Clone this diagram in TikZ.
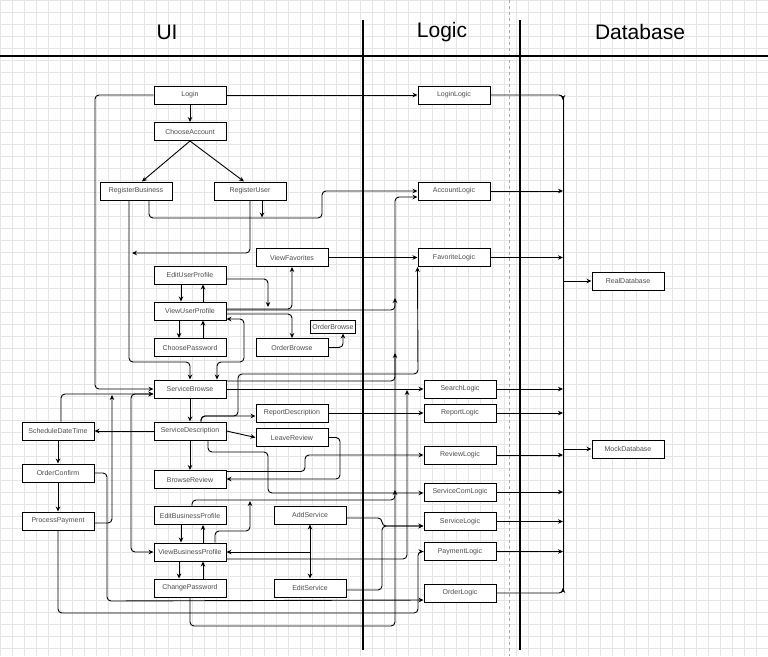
\documentclass[tikz,border=0pt]{standalone}
\usepackage{fontspec}
\setmainfont{Liberation Sans}
\usepackage{tikz}
\usetikzlibrary{arrows.meta,positioning,calc}
\tikzset{
  box/.style={draw, line width=1pt, fill=white, minimum width=72pt, minimum height=18pt, inner sep=0pt, font=\fontsize{7}{8}\selectfont, text=black!70},
  smallbox/.style={box, minimum width=45pt, minimum height=13pt},
  head/.style={font=\fontsize{21}{24}\selectfont},
  link/.style={line width=0.9pt, rounded corners=4pt, -{Stealth[length=5pt,width=4.5pt]}},
  twolink/.style={link, {Stealth[length=5pt,width=4.5pt]}-{Stealth[length=5pt,width=4.5pt]}},
  plain/.style={line width=0.9pt},
  sepline/.style={line width=2.4pt},
  gridline/.style={line width=0.5pt, black!10},
}

\begin{document}
\begin{tikzpicture}[x=1pt,y=-1pt]
      \useasboundingbox (0,0) rectangle (768,656);
      \fill[white] (0,0) rectangle (768,656);
      \foreach \gx in {0,12,...,768} \draw[gridline] (\gx,0) -- (\gx,656);
      \foreach \gy in {0,12,...,656} \draw[gridline] (0,\gy) -- (768,\gy);
      \draw[black!35, dashed] (509,0) -- (509,656);
      \draw[line width=1.2pt] (0,56) -- (768,56);
      \draw[sepline] (363,20) -- (363,650);
      \draw[sepline] (520,20) -- (520,650);
      \node[head] at (167,32) (ui) {UI};
      \node[head] at (442,32) (logic) {Logic};
      \node[head] at (640,32) (database) {Database};
      % ui side
      \node[box] at (190,95) (login) {Login};
      \node[box] at (190,131.5) (chooseacc) {ChooseAccount};
      \node[box] at (136,191) (regbus) {RegisterBusiness};
      \node[box] at (250,191) (reguser) {RegisterUser};
      \node[box] at (292,257.5) (viewfav) {ViewFavorites};
      \node[box] at (190,275) (edituser) {EditUserProfile};
      \node[box] at (190,311) (viewuser) {ViewUserProfile};
      \node[smallbox] at (333,326.5) (orderbrsmall) {OrderBrowse};
      \node[box] at (190,347.5) (choosepw) {ChoosePassword};
      \node[box] at (292,347.5) (orderbr) {OrderBrowse};
      \node[box] at (190,389) (servbrowse) {ServiceBrowse};
      \node[box] at (292,413) (reportdesc) {ReportDescription};
      \node[box] at (58,431) (scheddt) {ScheduleDateTime};
      \node[box] at (190,431) (servdesc) {ServiceDescription};
      \node[box] at (292,437.5) (leavereview) {LeaveReview};
      \node[box] at (58,473) (orderconf) {OrderConfirm};
      \node[box] at (190,479.5) (browsereview) {BrowseReview};
      \node[box] at (190,515.5) (editbus) {EditBusinessProfile};
      \node[box] at (58,521) (procpay) {ProcessPayment};
      \node[box] at (310,515) (addserv) {AddService};
      \node[box] at (190,552) (viewbus) {ViewBusinessProfile};
      \node[box] at (190,588) (changepw) {ChangePassword};
      \node[box] at (310,588) (editserv) {EditService};
      % logic side
      \node[box] at (454,95) (loginlogic) {LoginLogic};
      \node[box] at (454,191) (acclogic) {AccountLogic};
      \node[box] at (454,257.5) (favlogic) {FavoriteLogic};
      \node[box] at (460,389) (searchlogic) {SearchLogic};
      \node[box] at (460,413) (reportlogic) {ReportLogic};
      \node[box] at (460,455) (reviewlogic) {ReviewLogic};
      \node[box] at (460,492) (servcomlogic) {ServiceComLogic};
      \node[box] at (460,521.5) (servlogic) {ServiceLogic};
      \node[box] at (460,551.5) (paylogic) {PaymentLogic};
      \node[box] at (460,593) (orderlogic) {OrderLogic};
      % database side
      \node[box] at (628,281) (realdb) {RealDatabase};
      \node[box] at (628,449) (mockdb) {MockDatabase};
      % free ends
      \coordinate (bustop) at (563,98);
      \coordinate (busbot) at (563,590);
      \coordinate (ruend) at (262,217.5);
      \coordinate (rbend) at (132,253);
      \coordinate (euend) at (268,307);
      \coordinate (vuend) at (395,298);
      \coordinate (ppend) at (112,395);
      \coordinate (vbend) at (250,501);
      \coordinate (ebend) at (395,490);
      \coordinate (vbend2) at (407,390);
      \coordinate (cpend) at (395,353);
      \coordinate (asend) at (310,552);
      % login and accounts
      \draw[link] (login) -- (chooseacc);
      \draw[link] (chooseacc.south) -- ([xshift=6pt]regbus.north);
      \draw[link] (chooseacc.south) -- ([xshift=-6pt]reguser.north);
      \draw[link] (login) -- (loginlogic);
      \draw[link] (login.west) -| (95,389) -- (servbrowse.west);
      \draw[link] ([xshift=13pt]regbus.south) -- (149,218) -- (322,218) -- (322,191) -- (acclogic.west);
      \draw[link] ([xshift=12pt]reguser.south) -- (ruend);
      \draw[link] ([xshift=-7pt]regbus.south) -- (129,362) -- (190,362) -- (servbrowse.north);
      \draw[link] (reguser.south) -- (250,253) -- (rbend);
      % user profile
      \draw[link] ([xshift=-9pt]edituser.south) -- ([xshift=-9pt]viewuser.north);
      \draw[link] ([xshift=13pt]viewuser.north) -- ([xshift=13pt]edituser.south);
      \draw[link] ([xshift=-11pt]viewuser.south) -- ([xshift=-11pt]choosepw.north);
      \draw[link] ([xshift=13pt]choosepw.north) -- ([xshift=13pt]viewuser.south);
      \draw[link] ([yshift=-4pt]edituser.east) -- (268,279) -- (euend);
      \draw[link] ([yshift=2pt]viewuser.east) -- (292,309) -- (viewfav.south);
      \draw[link] ([yshift=1pt]viewuser.east) -- (395,310) -- (vuend);
      \draw[link] ([yshift=-3pt]viewuser.east) -- (292,314) -- (orderbr.north);
      \draw[link] (orderbr.east) -- (343,347.5) -- ([xshift=10pt]orderbrsmall.south);
      \draw[twolink] ([yshift=-8pt]viewuser.east) -- (244,319) -- (244,362) -- (217,362) -- ([xshift=27pt]servbrowse.north);
      \draw[link] (viewfav) -- (favlogic);
      % browsing services
      \draw[link] ([yshift=8pt]servbrowse.east) -- (395,381) -- (395,197) -- ([yshift=-6pt]acclogic.west);
      \draw[link] (servbrowse) -- (searchlogic);
      \draw[link] (servbrowse) -- (servdesc);
      \draw[link] (servdesc) -- (scheddt);
      \draw[link] ([xshift=11pt]servdesc.north) -- (201,416) -- ([yshift=-3pt]reportdesc.west);
      \draw[link] ([xshift=11pt]servdesc.north) -- (201,416) -- (238,416) -- (238,374) -- (418,374) -- (favlogic.south west);
      \draw[link] (servdesc.east) -- (leavereview.west);
      \draw[link] (servdesc) -- (browsereview);
      \draw[link] ([xshift=18pt]servdesc.south) -- (208,452) -- (268,452) -- (268,493) -- ([yshift=-1pt]servcomlogic.west);
      \draw[link] (leavereview.east) -- (340,437.5) -- (340,479) -- ([yshift=0.5pt]browsereview.east);
      \draw[link] ([yshift=8pt]browsereview.east) -- (305,471.5) -- (305,455) -- (reviewlogic.west);
      \draw[link] (reportdesc) -- (reportlogic);
      % ordering
      \draw[link] (scheddt) -- (orderconf);
      \draw[link] (orderconf) -- (procpay);
      \draw[link] ([xshift=3pt]scheddt.north) -- (61,394) -- ([yshift=-5pt]servbrowse.west);
      \draw[link] ([yshift=-2pt]procpay.east) -- (112,523) -- (ppend);
      \draw[link] (orderconf.east) -- (107,473) -- (107,601) -- ([yshift=-7pt]orderlogic.west);
      \draw[link] (procpay.south) -- (58,613) -- (418,613) -- (418,551.5) -- (paylogic.west);
      % business profile
      \draw[link] ([xshift=-9pt]editbus.south) -- ([xshift=-9pt]viewbus.north);
      \draw[link] ([xshift=13pt]viewbus.north) -- ([xshift=13pt]editbus.south);
      \draw[link] ([xshift=-11pt]viewbus.south) -- ([xshift=-11pt]changepw.north);
      \draw[link] ([xshift=13pt]changepw.north) -- ([xshift=13pt]viewbus.south);
      \draw[twolink] (viewbus.west) -- (131,552) -- (131,394) -- ([yshift=-5pt]servbrowse.west);
      \draw[link] ([xshift=25pt]viewbus.north) -- (215,531) -- (250,531) -- (vbend);
      \draw[link] ([xshift=2pt]editbus.north) -- (192,500) -- (395,500) -- (ebend);
      \draw[link] ([yshift=-7pt]viewbus.east) -- (407,559) -- (vbend2);
      \draw[twolink] (addserv) -- (editserv);
      \draw[link] (asend) -- (viewbus.east);
      \draw[link] ([yshift=-3pt]addserv.east) -- (382,518) -- (382,526) -- ([yshift=-4.5pt]servlogic.west);
      \draw[link] ([yshift=-2pt]editserv.east) -- (382,590) -- (382,526) -- ([yshift=-4.5pt]servlogic.west);
      \draw[link] (changepw.south) -- (190,626) -- (395,626) -- (cpend);
      % logic to databases
      \draw[plain] (bustop) -- (busbot);
      \draw[link] (loginlogic.east) -- (563,95) -- ([yshift=-2pt]bustop);
      \foreach \lg in {acclogic,favlogic,searchlogic,reportlogic,reviewlogic,servcomlogic,servlogic,paylogic}
        \draw[link] (\lg.east) -- (\lg.east -| bustop);
      \draw[link] (orderlogic.east) -- (563,593) -- ([yshift=2pt]busbot);
      \draw[link] (realdb.west -| bustop) -- (realdb.west);
      \draw[link] (mockdb.west -| bustop) -- (mockdb.west);
    \end{tikzpicture}
\end{document}
